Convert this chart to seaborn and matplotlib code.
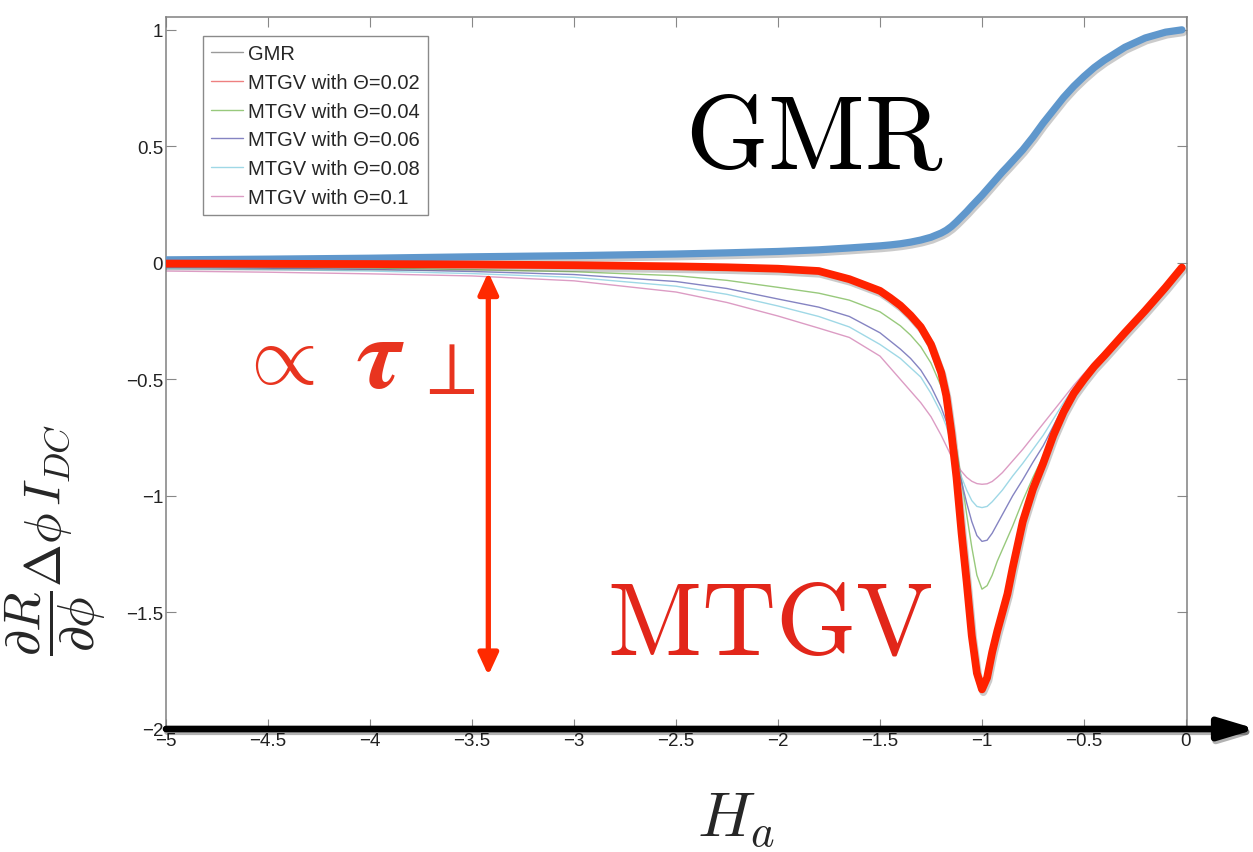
import matplotlib
matplotlib.use("Agg")
import matplotlib.pyplot as plt
import matplotlib.patheffects as pe
import seaborn as sns

# Applied field H_a (sample positions of the computed curves)
H = [-5, -4.5, -4, -3.5, -3, -2.5, -2.25, -2, -1.8, -1.65, -1.5, -1.45, -1.4, -1.35,
     -1.3, -1.25, -1.2, -1.175, -1.15, -1.125, -1.1, -1.075, -1.05, -1.025, -1.0,
     -0.975, -0.95, -0.925, -0.9, -0.875, -0.85, -0.8, -0.75, -0.7, -0.65, -0.6,
     -0.55, -0.5, -0.45, -0.4, -0.3, -0.2, -0.1, -0.02]

GMR = [0.013, 0.016, 0.020, 0.026, 0.031, 0.038, 0.043, 0.049, 0.056, 0.064, 0.073,
       0.077, 0.082, 0.089, 0.098, 0.110, 0.128, 0.140, 0.156, 0.176, 0.198, 0.220,
       0.244, 0.267, 0.290, 0.315, 0.340, 0.365, 0.390, 0.413, 0.437, 0.485, 0.540,
       0.600, 0.655, 0.710, 0.758, 0.800, 0.838, 0.870, 0.925, 0.965, 0.990, 1.000]

MTGV_002 = [-0.003, -0.004, -0.005, -0.007, -0.010, -0.015, -0.019, -0.025, -0.035,
            -0.070, -0.120, -0.150, -0.183, -0.225, -0.275, -0.350, -0.470, -0.570,
            -0.730, -0.920, -1.160, -1.370, -1.600, -1.760, -1.830, -1.780, -1.670,
            -1.580, -1.500, -1.420, -1.310, -1.110, -0.970, -0.860, -0.740, -0.640,
            -0.560, -0.500, -0.445, -0.398, -0.300, -0.205, -0.105, -0.020]

MTGV_004 = [-0.015, -0.018, -0.022, -0.029, -0.038, -0.055, -0.075, -0.105, -0.130,
            -0.160, -0.210, -0.240, -0.270, -0.310, -0.360, -0.430, -0.530, -0.600,
            -0.690, -0.800, -0.930, -1.080, -1.220, -1.340, -1.400, -1.385, -1.340,
            -1.280, -1.230, -1.180, -1.130, -1.020, -0.920, -0.830, -0.725, -0.630,
            -0.550, -0.490, -0.438, -0.392, -0.295, -0.200, -0.100, -0.020]

MTGV_006 = [-0.020, -0.023, -0.028, -0.037, -0.050, -0.080, -0.110, -0.155, -0.190,
            -0.230, -0.300, -0.335, -0.370, -0.410, -0.460, -0.530, -0.620, -0.680,
            -0.760, -0.850, -0.940, -1.030, -1.110, -1.170, -1.195, -1.190, -1.160,
            -1.120, -1.080, -1.040, -1.000, -0.930, -0.855, -0.785, -0.700, -0.615,
            -0.545, -0.485, -0.435, -0.390, -0.295, -0.200, -0.100, -0.020]

MTGV_008 = [-0.025, -0.029, -0.035, -0.046, -0.062, -0.100, -0.135, -0.185, -0.230,
            -0.275, -0.350, -0.380, -0.410, -0.450, -0.490, -0.560, -0.645, -0.700,
            -0.780, -0.855, -0.920, -0.975, -1.020, -1.045, -1.050, -1.045, -1.025,
            -1.000, -0.975, -0.945, -0.915, -0.860, -0.800, -0.740, -0.670, -0.600,
            -0.535, -0.480, -0.430, -0.385, -0.290, -0.195, -0.100, -0.020]

MTGV_010 = [-0.035, -0.040, -0.047, -0.056, -0.077, -0.125, -0.170, -0.228, -0.280,
            -0.320, -0.400, -0.450, -0.500, -0.550, -0.600, -0.660, -0.740, -0.785,
            -0.830, -0.865, -0.895, -0.920, -0.937, -0.947, -0.950, -0.948, -0.938,
            -0.920, -0.900, -0.875, -0.850, -0.800, -0.745, -0.690, -0.635, -0.580,
            -0.525, -0.475, -0.425, -0.380, -0.285, -0.190, -0.095, -0.020]

series_labels = ["GMR", "MTGV with Θ=0.02", "MTGV with Θ=0.04", "MTGV with Θ=0.06",
                 "MTGV with Θ=0.08", "MTGV with Θ=0.1"]
series_values = [GMR, MTGV_002, MTGV_004, MTGV_006, MTGV_008, MTGV_010]
series_colors = ["#9a9a9a", "#ee8080", "#98c97c", "#8584c2", "#9fd8e6", "#dc9cc4"]

x_ticks = [-5, -4.5, -4, -3.5, -3, -2.5, -2, -1.5, -1, -0.5, 0]
x_ticklabels = ["\u22125", "\u22124.5", "\u22124", "\u22123.5", "\u22123", "\u22122.5",
                "\u22122", "\u22121.5", "\u22121", "\u22120.5", "0"]
y_ticks = [-2, -1.5, -1, -0.5, 0, 0.5, 1]
y_ticklabels = ["\u22122", "\u22121.5", "\u22121", "\u22120.5", "0", "0.5", "1"]

sns.set_style("ticks")
plt.rcParams["font.family"] = ["Liberation Sans", "DejaVu Sans"]
plt.rcParams["mathtext.fontset"] = "cm"

fig = plt.figure(figsize=(12.53, 8.53), dpi=100)
ax = fig.add_axes([166 / 1253, 123 / 853, 1021 / 1253, 712 / 853])

# thin computed curves
handles = []
for lab, vals, col in zip(series_labels, series_values, series_colors):
    sns.lineplot(x=H, y=vals, ax=ax, color=col, lw=1.0, label=lab, zorder=2)
    handles.append(ax.get_lines()[-1])

# emphasised overlays
shadow = [pe.SimpleLineShadow(offset=(1.0, -2.0), shadow_color="#555555", alpha=0.3), pe.Normal()]
sns.lineplot(x=H, y=GMR, ax=ax, color="#5f97cc", lw=5.2, zorder=4,
             path_effects=shadow, solid_capstyle="round", solid_joinstyle="round")
sns.lineplot(x=H, y=MTGV_002, ax=ax, color="#ff2200", lw=5.6, zorder=5,
             path_effects=shadow, solid_capstyle="round", solid_joinstyle="round")

leg = ax.legend(handles=handles, labels=series_labels, loc="upper left",
                bbox_to_anchor=(0.036, 0.973), borderaxespad=0, fontsize=14.5,
                frameon=True, fancybox=False, edgecolor="#8a8a8a", framealpha=1,
                handlelength=1.6, handletextpad=0.25, labelspacing=0.48,
                borderpad=0.4)
leg.get_frame().set_linewidth(1.0)

ax.set_xlim(-5, 0.005)
ax.set_ylim(-2, 1.055)
ax.set_xticks(x_ticks)
ax.set_xticklabels(x_ticklabels)
ax.set_yticks(y_ticks)
ax.set_yticklabels(y_ticklabels)
ax.tick_params(direction="in", length=7, width=0.8, color="#888888",
               top=True, right=True, labelsize=13.5, pad=2, labelcolor="#222222")
for s in ax.spines.values():
    s.set_color("#808080")
    s.set_linewidth(1.1)

# field axis arrow
ax.annotate("", xy=(0.345, -2), xytext=(-5, -2), xycoords="data",
            arrowprops=dict(arrowstyle="-|>,head_length=1.1,head_width=0.33",
                            color="black", lw=4.8, shrinkA=0, shrinkB=0,
                            mutation_scale=20,
                            path_effects=[pe.SimpleLineShadow(offset=(1, -2), alpha=0.3), pe.Normal()]),
            annotation_clip=False, zorder=6)

# torque amplitude marker
ax.annotate("", xy=(-3.42, -0.04), xytext=(-3.42, -1.77), xycoords="data",
            arrowprops=dict(arrowstyle="<|-|>,head_length=0.65,head_width=0.3",
                            color="#ff2a00", lw=3.8, shrinkA=0, shrinkB=0,
                            mutation_scale=20),
            zorder=6)

red_text = "#e8341f"
ax.text(-4.66, -0.42, r"$\propto$", color=red_text, fontsize=62, ha="left", va="center")
ax.text(-3.95, -0.42, r"$\boldsymbol{\tau}$", color=red_text, fontsize=74,
        ha="center", va="center")
ax.text(-3.64, -0.475, r"$\perp$", color=red_text, fontsize=54, ha="center", va="center")

ax.text(-1.82, 0.53, r"$\mathrm{GMR}$", color="black", fontsize=76,
        ha="center", va="center")
ax.text(-2.04, -1.56, r"$\mathrm{MTGV}$", color="#e2261a", fontsize=74,
        ha="center", va="center")

ax.set_ylabel(r"$\dfrac{\partial R}{\partial \phi}\Delta\phi\, I_{DC}$", fontsize=37,
              rotation=90, ha="center", va="center")
ax.yaxis.set_label_coords(-0.108, 0.267)
ax.set_xlabel(r"$H_a$", fontsize=46, ha="center", va="top")
ax.xaxis.set_label_coords(0.558, -0.085)

fig.savefig("out.png", dpi=100)
